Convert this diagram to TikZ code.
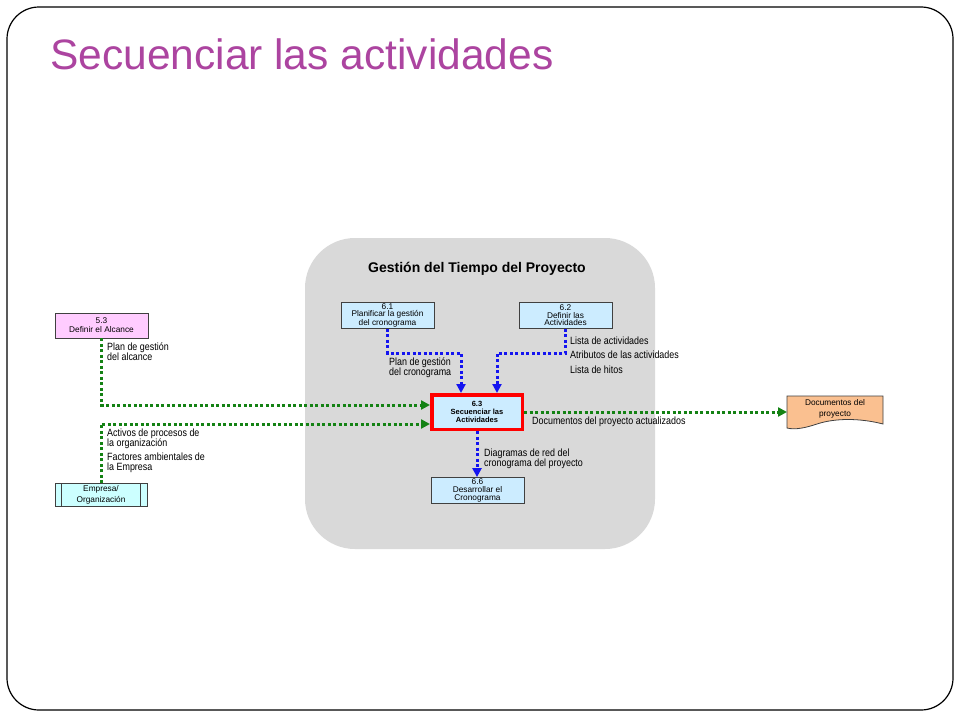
\documentclass[tikz,border=0pt]{standalone}
\usepackage{fontspec}
\setmainfont{Liberation Sans}
\newfontfamily\narrowfont[FakeStretch=0.85]{Liberation Sans}
\usetikzlibrary{positioning}
\usetikzlibrary{arrows.meta}
\definecolor{titlemagenta}{RGB}{172,68,160}
\definecolor{panelgray}{RGB}{217,217,217}
\definecolor{boxline}{RGB}{64,64,64}
\definecolor{procblue}{RGB}{204,236,255}
\definecolor{scopepink}{RGB}{255,204,255}
\definecolor{orgcyan}{RGB}{204,255,255}
\definecolor{docorange}{RGB}{250,192,144}
\definecolor{flowblue}{RGB}{20,20,240}
\definecolor{flowgreen}{RGB}{20,130,20}

\begin{document}
\begin{tikzpicture}[x=1pt, y=-1pt,
			process/.style={draw=boxline, fill=procblue, line width=0.8pt,
				minimum width=93pt, minimum height=26pt, inner sep=0pt,
				align=center, font=\fontsize{8.3}{7.6}\selectfont},
			flowlabel/.style={anchor=west, align=left, inner sep=0pt,
				font=\narrowfont\fontsize{10.5}{10}\selectfont},
			blueflow/.style={draw=flowblue, line width=3pt,
				dash pattern=on 3pt off 2.5pt,
				-{Triangle[length=9pt,width=9pt]}},
			greenflow/.style={draw=flowgreen, line width=3pt,
				dash pattern=on 3pt off 2.5pt,
				-{Triangle[length=9pt,width=9pt]}}]
			\useasboundingbox (0,0) rectangle (960,720);
			\draw [line width=1.2pt, rounded corners=32pt, fill=white] (7,7) rectangle (953,710);
			\node [anchor=base west, inner sep=0pt, text=titlemagenta,
				font=\fontsize{42.5}{42.5}\selectfont] (title) at (50,69) {Secuenciar las actividades};
			\node [fill=panelgray, rounded corners=50pt,
				minimum width=350pt, minimum height=311pt] (panel) at (480,393.5) {};
			\node [font=\bfseries\fontsize{14}{14}\selectfont] (paneltitle) at (477,269) {Gestión del Tiempo del Proyecto};
			\node [process] (p61) at (387.5,315.5) {6.1\\Planificar la gestión\\del cronograma};
			\node [process] (p62) at (565.5,315.5) {6.2\\Definir las\\Actividades};
			\node [process, draw=red, line width=3.5pt, minimum width=90.5pt, minimum height=34.5pt,
				font=\bfseries\fontsize{7.5}{7.8}\selectfont] (p63) at (477,412) {6.3\\Secuenciar las\\Actividades};
			\node [process] (p66) at (477.5,490.5) {6.6\\Desarrollar el\\Cronograma};
			\node [process, fill=scopepink, minimum height=25pt,
				font=\fontsize{8.3}{9}\selectfont] (p53) at (101.5,325.5) {5.3\\Definir el Alcance};
			\node [process, fill=orgcyan, minimum width=92pt, minimum height=23pt,
				font=\fontsize{8.3}{10.5}\selectfont] (emp) at (101,495) {Empresa/\\Organización};
			\draw [boxline, line width=0.8pt] ([xshift=7pt]emp.north west) -- ([xshift=7pt]emp.south west);
			\draw [boxline, line width=0.8pt] ([xshift=-7pt]emp.north east) -- ([xshift=-7pt]emp.south east);
			\draw [draw=boxline, line width=0.8pt, fill=docorange]
				(787,396) -- (883,396) -- (883,424)
				.. controls (860,418) and (835,418) .. (817,424)
				.. controls (805,428) and (795,430) .. (787,428) -- cycle;
			\node [align=center, inner sep=0pt,
				font=\fontsize{8.3}{11}\selectfont] (docs) at (835,409) {Documentos del\\proyecto};
			\node [flowlabel] (lalcance) at (107,352) {Plan de gestión\\del alcance};
			\node [flowlabel] (lcrono) at (389,368) {Plan de gestión\\del cronograma};
			\node [flowlabel] (lactiv) at (570,341) {Lista de actividades};
			\node [flowlabel] (latrib) at (570,355) {Atributos de las actividades};
			\node [flowlabel] (lhitos) at (570,370) {Lista de hitos};
			\node [flowlabel] (ldocs) at (532,422) {Documentos del proyecto actualizados};
			\node [flowlabel] (lred) at (484,458.5) {Diagramas de red del\\cronograma del proyecto};
			\node [flowlabel] (lactivos) at (107,439) {Activos de procesos de\\la organización};
			\node [flowlabel] (lfactores) at (107,462.5) {Factores ambientales de\\la Empresa};
			\coordinate (j61) at (461,353);
			\coordinate (j62) at (497,353);
			\coordinate (j53) at (101.5,405);
			\coordinate (jemp) at (101,424);
			\coordinate (jdocs) at (787,412);
			\draw [blueflow] (p61.south) |- (j61) -- (j61 |- p63.north);
			\draw [blueflow] (p62.south) |- (j62) -- (j62 |- p63.north);
			\draw [blueflow] (p63.south) -- (p63.south |- p66.north);
			\draw [greenflow] (p53.south) -- (j53) -- (j53 -| p63.west);
			\draw [greenflow] (emp.north) -- (jemp) -- (jemp -| p63.west);
			\draw [greenflow] (p63.east) -- (p63.east -| jdocs);
		\end{tikzpicture}
\end{document}
